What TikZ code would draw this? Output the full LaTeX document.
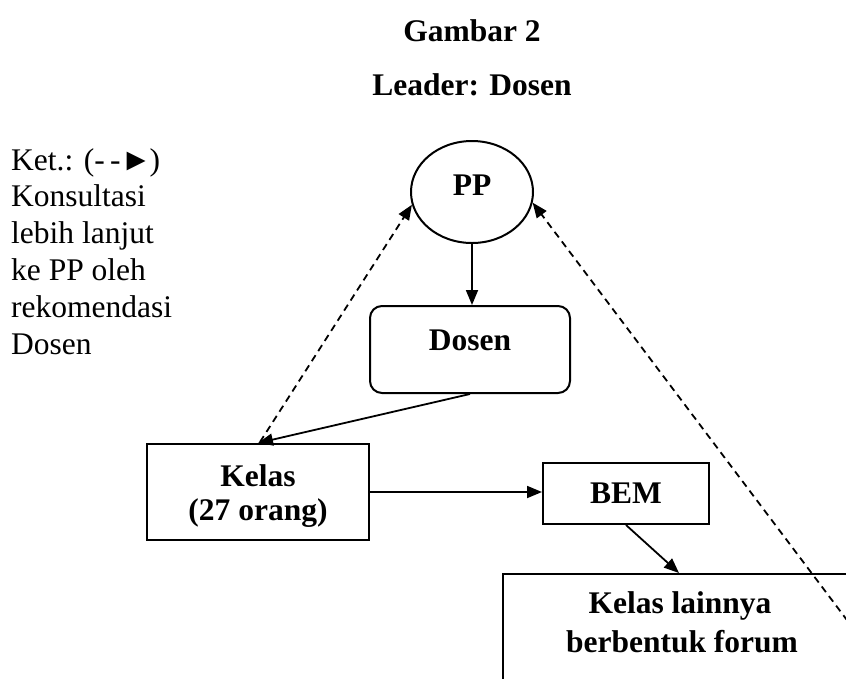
\documentclass[tikz,border=0pt]{standalone}
\usepackage{fontspec}
\setmainfont{Liberation Serif}
\usetikzlibrary{arrows.meta,shapes.geometric,calc}
\tikzset{
  box/.style={draw,line width=2pt,inner sep=0pt},
  lbl/.style={anchor=base,inner sep=0pt,font=\fontsize{31.5}{36}\selectfont\bfseries},
  conn/.style={line width=1.8pt,-{Triangle[length=15pt,width=12pt]}},
  dconn/.style={conn,dash pattern=on 7pt off 5pt},
}
\begin{document}
\begin{tikzpicture}[x=1pt,y=-1pt]
\useasboundingbox (0,0) rectangle (846,678);
\clip (0,0) rectangle (846,678);
\fill[white] (0,0) rectangle (846,678);
% titles
\node[lbl] (t1) at (472,41) {Gambar 2};
\node[lbl] (t2) at (472,95) {Leader: Dosen};
% legend
\node[anchor=north west,inner sep=0pt,align=left,font=\fontsize{31.5}{36.8}\selectfont] (ket) at (11,148)
  {Ket.: (-\,-►\kern-2pt)\\Konsultasi\\lebih lanjut\\ke PP oleh\\rekomendasi\\Dosen};
% shapes
\node[box,ellipse,minimum width=122pt,minimum height=102pt] (pp) at (472,192) {};
\node[box,rounded corners=12pt,minimum width=200pt,minimum height=87pt] (dosen) at (470,349.5) {};
\node[box,minimum width=222pt,minimum height=96pt] (kelas) at (258,492) {};
\node[box,minimum width=166pt,minimum height=61pt] (bem) at (626,493.5) {};
\node[box,minimum width=397pt,minimum height=186pt] (lain) at (701.5,667) {};
% labels
\node[lbl] (ppl) at (472,195) {PP};
\node[lbl] (dosenl) at (470,350) {Dosen};
\node[lbl] (kelasl1) at (258,486) {Kelas};
\node[lbl] (kelasl2) at (258,520) {(27 orang)};
\node[lbl] (beml) at (626,503) {BEM};
\node[lbl] (lainl1) at (680,613) {Kelas lainnya};
\node[lbl] (lainl2) at (682,652) {berbentuk forum};
% connectors
\draw[conn] (pp.south) -- (pp.south |- dosen.north);
\draw[conn] (dosen.south) -- (kelas.north);
\draw[conn] (kelas.east) -- (kelas.east -| bem.west);
\draw[conn] (bem.south) -- ($(lain.north west)+(177,0)$);
\draw[dconn] ($(kelas.north)+(2,-1)$) -- (pp.192);
\coordinate (rs) at (862,640);
\draw[dconn] (rs) -- (pp.-10);
\end{tikzpicture}
\end{document}
